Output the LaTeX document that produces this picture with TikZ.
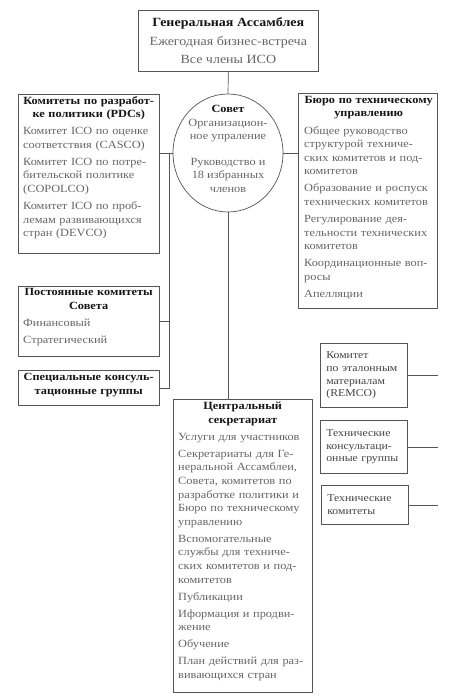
\documentclass[tikz,border=0pt]{standalone}
\usepackage{fontspec}
\setmainfont{Liberation Serif}[FakeStretch=1.12]
\usetikzlibrary{positioning,shapes.geometric}
\definecolor{edge}{HTML}{555555}
\definecolor{ink}{HTML}{151515}
\definecolor{muted}{HTML}{666666}
\tikzset{
  frame/.style={draw=edge, line width=0.7pt, anchor=north west, inner sep=0pt},
  body/.style={anchor=north west, inner sep=0pt, align=left, text=muted,
    font=\fontsize{11}{13.6}\selectfont\setlength{\parskip}{3.4pt}\setlength{\parindent}{0pt}},
  small/.style={draw=edge, line width=0.7pt, anchor=north west, inner xsep=6pt, inner ysep=0pt,
    minimum width=87pt, text width=75pt, align=left, text=ink!80,
    font=\fontsize{10.5}{12.8}\selectfont},
  link/.style={draw=edge, line width=0.7pt}
}
\newcommand{\hd}[1]{{\centering\bfseries\color{ink}#1\par}}

\begin{document}
\begin{tikzpicture}[x=1pt,y=-1pt]
\useasboundingbox[fill=white] (0,0) rectangle (459,700);

% top level
\node[frame, minimum width=180pt, minimum height=61pt] (ga) at (138,10) {};
\node[align=center, text=muted, font=\fontsize{12.5}{18.5}\selectfont] (gaText) at (ga.center)
  {\textcolor{ink}{\bfseries Генеральная Ассамблея}\\Ежегодная бизнес-встреча\\Все члены ИСО};

\node[draw=edge, line width=0.7pt, ellipse, minimum width=110pt, minimum height=118pt] (council) at (228,153) {};
\node[align=center, text=muted, font=\fontsize{11}{13.6}\selectfont] (councilText) at (228,149)
  {\textcolor{ink}{\bfseries Совет}\\Организацион-\\ное упраление\\[12pt]Руководство и\\18 избранных\\членов};

% left column
\node[frame, minimum width=141pt, minimum height=159pt] (pdc) at (18,94) {};
\node[body, text width=131pt] (pdcText) at ([shift={(5,2)}]pdc.north west) {
  \hd{Комитеты по разработ-\\ке политики (PDCs)}
  Комитет ICO по оценке\\соответствия (CASCO)\par
  Комитет ICO по потре-\\бительской политике\\(COPOLCO)\par
  Комитет ICO по проб-\\лемам развивающихся\\стран (DEVCO)};

\node[frame, minimum width=141pt, minimum height=70pt] (perm) at (18,286) {};
\node[body, text width=131pt] (permText) at ([shift={(5,2)}]perm.north west) {
  \hd{Постоянные комитеты\\Совета}
  Финансовый\par
  Стратегический};

\node[frame, minimum width=141pt, minimum height=35pt] (spec) at (18,370) {};
\node[body, text width=131pt] (specText) at ([shift={(5,3)}]spec.north west) {
  \hd{Специальные консуль-\\тационные группы}};

% right column
\node[frame, minimum width=139pt, minimum height=215pt] (tmb) at (298,93) {};
\node[body, text width=129pt] (tmbText) at ([shift={(6,3)}]tmb.north west) {
  \hd{Бюро по техническому\\управлению}
  Общее руководство\\структурой техниче-\\ских комитетов и под-\\комитетов\par
  Образование и роспуск\\технических комитетов\par
  Регулирование дея-\\тельности технических\\комитетов\par
  Координационные воп-\\росы\par
  Апелляции};

% central secretariat
\node[frame, minimum width=139pt, minimum height=293pt] (secr) at (173,399) {};
\node[body, text width=129pt] (secrText) at ([shift={(5,3)}]secr.north west) {
  \hd{Центральный\\секретариат}
  Услуги для участников\par
  Секретариаты для Ге-\\неральной Ассамблеи,\\Совета, комитетов по\\разработке политики и\\Бюро по техническому\\управлению\par
  Вспомогательные\\службы для техниче-\\ских комитетов и под-\\комитетов\par
  Публикации\par
  Иформация и продви-\\жение\par
  Обучение\par
  План действий для раз-\\вивающихся стран};

% technical bodies
\node[small, minimum height=64pt] (remco) at (320,343) {Комитет\\по эталонным\\материалам\\(REMCO)};
\node[small, minimum height=53pt] (tag) at (320,420) {Технические\\консультаци-\\онные группы};
\node[small, minimum height=39pt] (tc) at (321,485) {Технические\\комитеты};

% connectors
\coordinate (busTop) at (169,153);
\draw[link] (ga.south) -- (council.north);
\draw[link] (council.west) -- (council.west -| pdc.east);
\draw[link] (busTop) |- (spec.east);
\draw[link] (perm.east) -- (perm.east -| busTop);
\draw[link] (council.east) -- (council.east -| tmb.west);
\draw[link] (council.south) -- (council.south |- secr.north);
\foreach \n in {remco,tag,tc}
  \draw[link] (\n.east) -- (\n.east -| tmb.east);
\end{tikzpicture}
\end{document}
